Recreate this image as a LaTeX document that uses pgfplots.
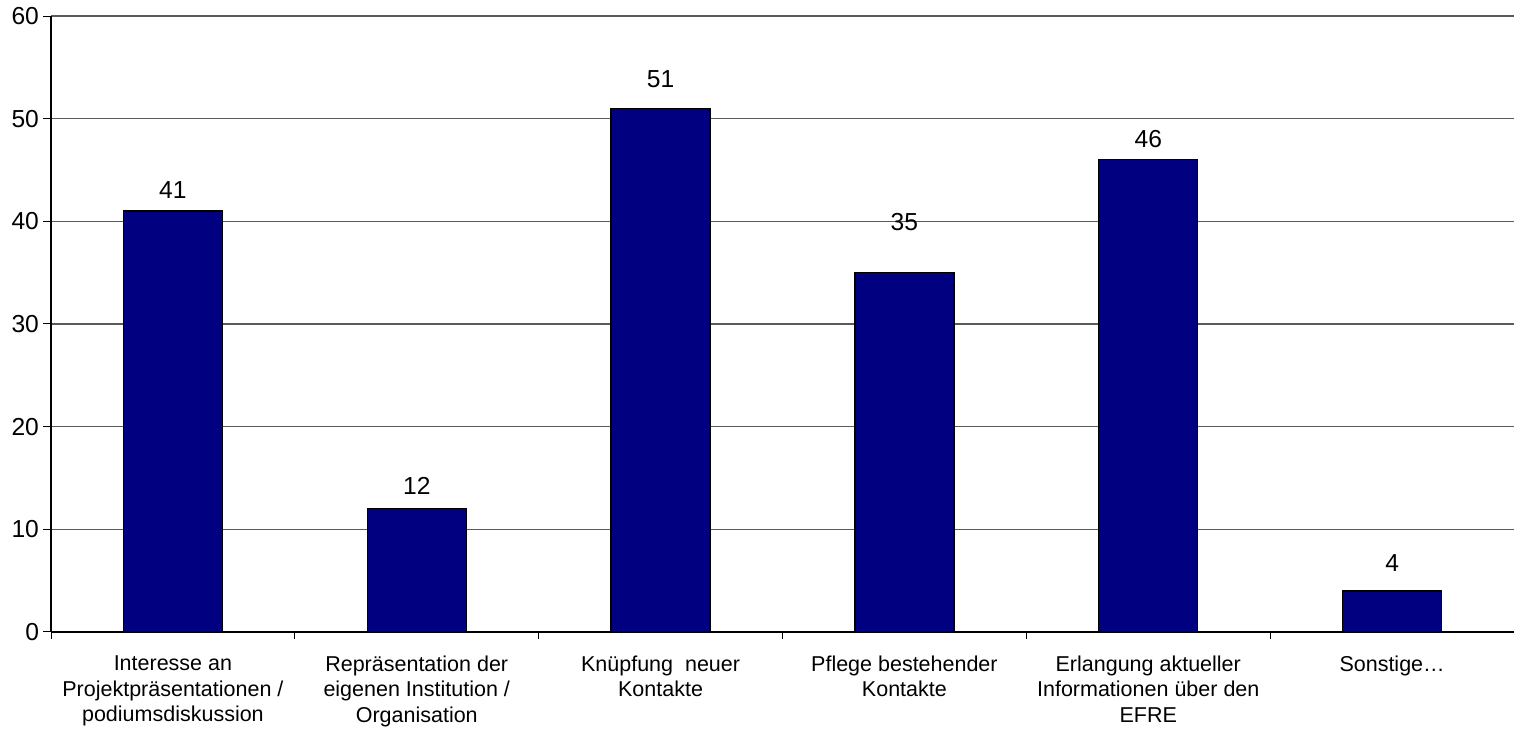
\documentclass[border=0pt]{standalone}
\usepackage{pgfplots}
\pgfplotsset{compat=1.18}
\usepackage{fontspec}
\setmainfont{Liberation Sans}
\definecolor{barnavy}{RGB}{0,0,128}
\definecolor{gridgray}{RGB}{90,90,90}
\begin{document}
\begin{tikzpicture}
\path[use as bounding box] (-25.5pt,-55pt) rectangle (731.5pt,316pt);
\begin{axis}[
  scale only axis,
  width=731.5pt, height=308pt,
  at={(0pt,0pt)}, anchor=south west,
  xmin=-0.5, xmax=5.5, ymin=0, ymax=60,
  axis x line*=bottom, axis y line*=left,
  axis line style={-, black, line width=0.6pt},
  ytick={0,10,...,60},
  ymajorgrids,
  major grid style={gridgray, line width=0.6pt},
  tick align=outside,
  tick style={black, line width=0.5pt},
  major tick length=4pt,
  minor tick length=3.5pt,
  xtick={0,...,5},
  major x tick style={draw=none},
  minor xtick={-0.5,0.5,...,5.5},
  xticklabels={
    {Interesse an\\Projektpräsentationen /\\podiumsdiskussion},
    {Repräsentation der\\eigenen Institution /\\Organisation},
    {Knüpfung\ \ neuer\\Kontakte},
    {Pflege bestehender\\Kontakte},
    {Erlangung aktueller\\Informationen über den\\EFRE},
    {Sonstige…}},
  xticklabel style={align=center, font=\fontsize{10.75}{12.6}\selectfont, yshift=-4.5pt},
  yticklabel style={font=\fontsize{12.3}{14}\selectfont, xshift=1.5pt},
  /pgf/number format/assume math mode=true,
  clip=false,
]
\addplot[ybar, bar shift=0pt, bar width=0.406, fill=barnavy, draw=black, line width=0.7pt]
  coordinates {(0,41) (1,12) (2,51) (3,35) (4,46) (5,4)};
\addplot[draw=none, mark=none, nodes near coords, point meta=explicit symbolic,
  nodes near coords style={anchor=center, font=\fontsize{12.3}{14}\selectfont}]
  coordinates {(0,43.0)[41] (1,14.27)[12] (2,53.86)[51] (3,39.93)[35] (4,48.05)[46] (5,6.72)[4]};
\end{axis}
\end{tikzpicture}
\end{document}
